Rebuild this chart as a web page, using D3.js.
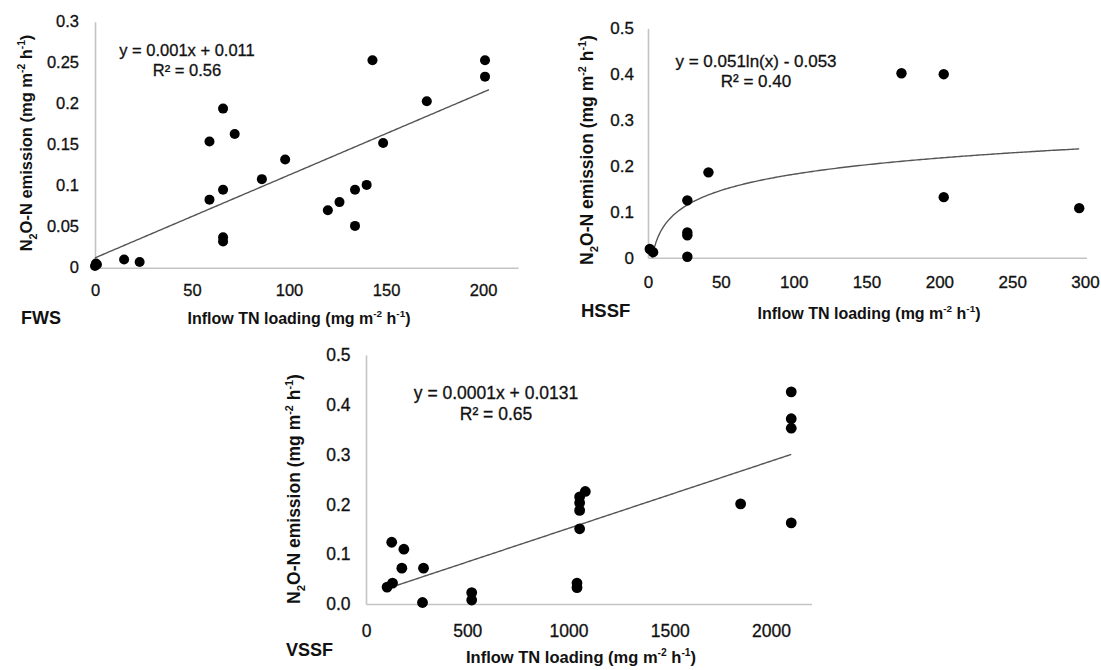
<!DOCTYPE html>
<html>
<head>
<meta charset="utf-8">
<script src="https://cdn.jsdelivr.net/npm/d3@7/dist/d3.min.js"></script>
<style>
  html, body { margin: 0; padding: 0; background: #fff; }
  svg { display: block; font-family: "Liberation Sans", Arial, sans-serif; }
</style>
</head>
<body>
<svg id="chart" width="1101" height="670"></svg>
<script>
// ---------------- DATA ----------------
const fwsX = [0, 0.5, 1, 15, 23, 59, 59, 66, 66, 66, 66, 72, 86, 98, 120, 126, 134, 134, 140, 143, 148.5, 171, 201, 201];
const fwsY = [0.002, 0.005, 0.004, 0.010, 0.007, 0.154, 0.083, 0.194, 0.095, 0.037, 0.032, 0.163, 0.108, 0.132, 0.070, 0.080, 0.095, 0.051, 0.101, 0.253, 0.152, 0.203, 0.253, 0.233];
const fwsTrend = { slope: 0.00101, intercept: 0.012, from: 0, to: 203 };
const fwsEq = ["y = 0.001x + 0.011", "R² = 0.56"];
const fwsXTicks = [0, 50, 100, 150, 200];
const fwsYTicks = [0, 0.05, 0.1, 0.15, 0.2, 0.25, 0.3];
const fwsYLabels = ["0", "0.05", "0.1", "0.15", "0.2", "0.25", "0.3"];

const hssfX = [1.2, 3.5, 27, 27, 27, 27, 41.5, 174, 203, 203, 296];
const hssfY = [0.019, 0.012, 0.125, 0.055, 0.049, 0.002, 0.186, 0.402, 0.400, 0.132, 0.108];
const hssfTrend = { a: 0.051, b: -0.053, from: 2.8, to: 296 };
const hssfEq = ["y = 0.051ln(x) - 0.053", "R² = 0.40"];
const hssfXTicks = [0, 50, 100, 150, 200, 250, 300];
const hssfYTicks = [0, 0.1, 0.2, 0.3, 0.4, 0.5];
const hssfYLabels = ["0", "0.1", "0.2", "0.3", "0.4", "0.5"];

const vssfX = [104, 131, 127, 187, 177, 284, 279, 522, 522, 1042, 1042, 1055, 1055, 1055, 1055, 1083, 1850, 2100, 2100, 2100, 2100];
const vssfY = [0.034, 0.042, 0.124, 0.110, 0.072, 0.072, 0.003, 0.023, 0.008, 0.042, 0.033, 0.188, 0.203, 0.215, 0.151, 0.226, 0.201, 0.426, 0.372, 0.353, 0.163];
const vssfTrend = { slope: 0.000135, intercept: 0.0169, from: 105, to: 2100 };
const vssfEq = ["y = 0.0001x + 0.0131", "R² = 0.65"];
const vssfXTicks = [0, 500, 1000, 1500, 2000];
const vssfYTicks = [0, 0.1, 0.2, 0.3, 0.4, 0.5];
const vssfYLabels = ["0.0", "0.1", "0.2", "0.3", "0.4", "0.5"];

const panelNames = ["FWS", "HSSF", "VSSF"];

// ---------------- LAYOUT ----------------
const svg = d3.select("#chart");

const panels = [
  {
    name: panelNames[0], xs: fwsX, ys: fwsY, eq: fwsEq,
    xTicks: fwsXTicks, yTicks: fwsYTicks, yLabels: fwsYLabels,
    xDom: [0, 218], xRange: [95, 518], yDom: [0, 0.3], yRange: [267.7, 21.7],
    fs: 16.5, r: 5, yPad: 16, xPad: 17,
    eqPos: [187, 56, 76],
    yTitle: { x: 32, y: 143, fs: 16.5 },
    xTitle: { x: 299, y: 324, fs: 16 },
    label: { x: 21, y: 324, fs: 18 },
    trend: d => fwsTrend.slope * d + fwsTrend.intercept, tr: fwsTrend
  },
  {
    name: panelNames[1], xs: hssfX, ys: hssfY, eq: hssfEq,
    xTicks: hssfXTicks, yTicks: hssfYTicks, yLabels: hssfYLabels,
    xDom: [0, 301], xRange: [648, 1086.5], yDom: [0, 0.5], yRange: [257.7, 28.3],
    fs: 17, r: 5.2, yPad: 14, xPad: 18,
    eqPos: [756, 67, 87],
    yTitle: { x: 593, y: 150, fs: 17.5 },
    xTitle: { x: 869, y: 319, fs: 16 },
    label: { x: 581, y: 317, fs: 18.5 },
    trend: d => hssfTrend.a * Math.log(d) + hssfTrend.b, tr: hssfTrend
  },
  {
    name: panelNames[2], xs: vssfX, ys: vssfY, eq: vssfEq,
    xTicks: vssfXTicks, yTicks: vssfYTicks, yLabels: vssfYLabels,
    xDom: [0, 2200], xRange: [366, 811.5], yDom: [0, 0.5], yRange: [604, 355],
    fs: 17.5, r: 5.4, yPad: 15.5, xPad: 21,
    eqPos: [496, 398.5, 420],
    yTitle: { x: 300, y: 489, fs: 17.5 },
    xTitle: { x: 581, y: 663, fs: 16.5 },
    label: { x: 286, y: 656, fs: 18 },
    trend: d => vssfTrend.slope * d + vssfTrend.intercept, tr: vssfTrend
  }
];

const INK = "#111";

function addUnits(sel, fs) {
  // "(mg m-2 h-1)" with superscripts, shifts in px so the baseline returns exactly
  const up = -0.42 * fs;
  sel.append("tspan").text("(mg m");
  sel.append("tspan").attr("font-size", 0.62 * fs).attr("dy", up).text("-2");
  sel.append("tspan").attr("dy", -up).text(" h");
  sel.append("tspan").attr("font-size", 0.62 * fs).attr("dy", up).text("-1");
  sel.append("tspan").attr("dy", -up).text(")");
}

function heavy(sel, w) {
  sel.attr("stroke", INK).attr("stroke-width", w).attr("paint-order", "stroke");
}

panels.forEach(p => {
  const g = svg.append("g");
  const x = d3.scaleLinear().domain(p.xDom).range(p.xRange);
  const y = d3.scaleLinear().domain(p.yDom).range(p.yRange);

  // Axes
  const xAxis = d3.axisBottom(x).tickValues(p.xTicks).tickSize(0).tickSizeOuter(0)
    .tickPadding(p.xPad).tickFormat(d3.format("d"));
  const yAxis = d3.axisLeft(y).tickValues(p.yTicks).tickSize(0).tickSizeOuter(0)
    .tickPadding(p.yPad).tickFormat((d, i) => p.yLabels[i]);

  const gx = g.append("g").attr("transform", `translate(0,${y(0)})`).call(xAxis);
  const gy = g.append("g").attr("transform", `translate(${x(0)},0)`).call(yAxis);
  [gx, gy].forEach(a => {
    a.select(".domain").attr("stroke", "#c4c4c4").attr("stroke-width", 1.6);
    const t = a.selectAll("text").attr("font-size", p.fs).attr("fill", INK)
      .attr("font-family", "'Liberation Sans', Arial, sans-serif");
    heavy(t, 0.3);
  });

  // Trend line
  const tx = d3.range(0, 201).map(i => p.tr.from + (p.tr.to - p.tr.from) * i / 200);
  g.append("path")
    .datum(tx)
    .attr("fill", "none")
    .attr("stroke", "#555")
    .attr("stroke-width", 1.4)
    .attr("d", d3.line().x(d => x(d)).y(d => y(p.trend(d))));

  // Points
  g.selectAll("circle.pt")
    .data(p.xs.map((v, i) => [v, p.ys[i]]))
    .join("circle")
    .attr("class", "pt")
    .attr("cx", d => x(d[0]))
    .attr("cy", d => y(d[1]))
    .attr("r", p.r)
    .attr("fill", "#000");

  // Equation text
  [p.eqPos[1], p.eqPos[2]].forEach((yy, i) => {
    const t = g.append("text").attr("x", p.eqPos[0]).attr("y", yy)
      .attr("text-anchor", "middle").attr("font-size", p.fs).attr("fill", INK).text(p.eq[i]);
    heavy(t, 0.3);
  });

  // Y title
  const fsY = p.yTitle.fs;
  const yt = g.append("text")
    .attr("transform", `translate(${p.yTitle.x},${p.yTitle.y}) rotate(-90)`)
    .attr("text-anchor", "middle").attr("font-weight", "bold")
    .attr("font-size", fsY).attr("fill", INK);
  yt.append("tspan").text("N");
  yt.append("tspan").attr("font-size", 0.65 * fsY).attr("dy", 0.3 * fsY).text("2");
  yt.append("tspan").attr("dy", -0.3 * fsY).text("O-N emission ");
  addUnits(yt, fsY);

  // X title
  const fsX = p.xTitle.fs;
  const xt = g.append("text")
    .attr("x", p.xTitle.x).attr("y", p.xTitle.y)
    .attr("text-anchor", "middle").attr("font-weight", "bold")
    .attr("font-size", fsX).attr("fill", INK);
  xt.append("tspan").text("Inflow TN loading ");
  addUnits(xt, fsX);

  // Panel label
  g.append("text").attr("x", p.label.x).attr("y", p.label.y)
    .attr("font-weight", "bold").attr("font-size", p.label.fs).attr("fill", INK)
    .text(p.name);
});
</script>
</body>
</html>
